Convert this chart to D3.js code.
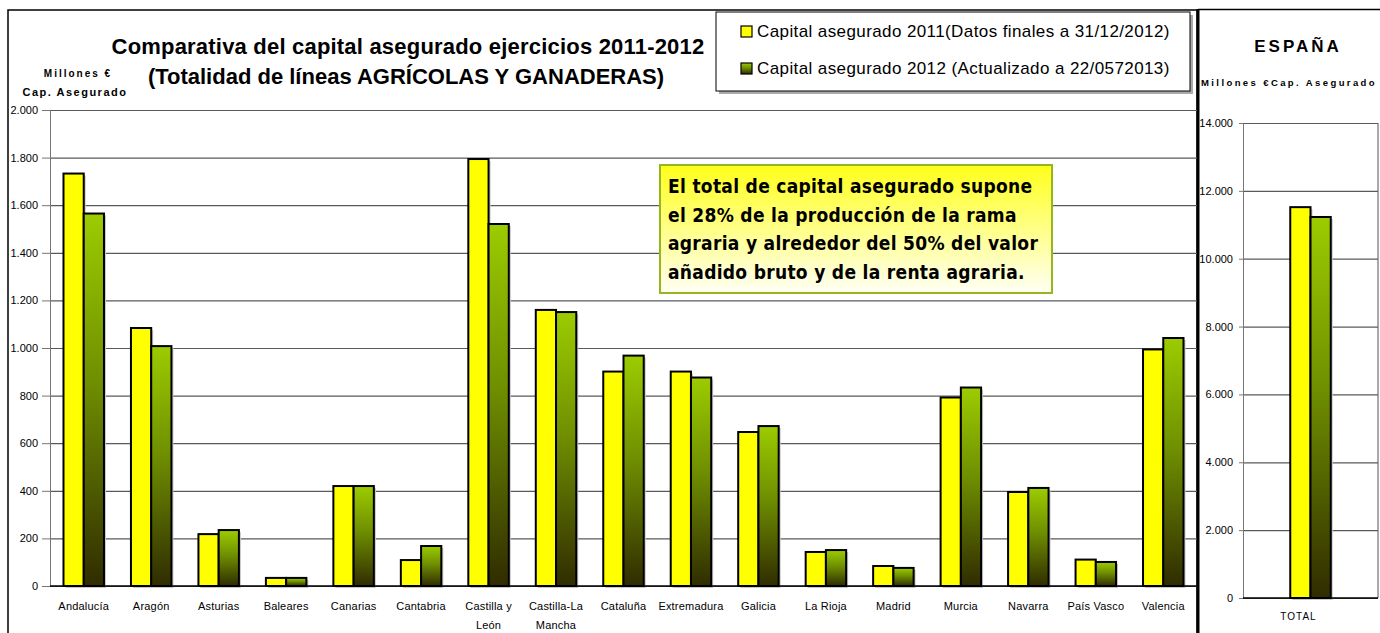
<!DOCTYPE html>
<html>
<head>
<meta charset="utf-8">
<script src="https://cdn.jsdelivr.net/npm/d3@7"></script>
<style>
  body { margin: 0; background: #fff; }
  svg { display: block; font-family: "Liberation Sans", Arial, sans-serif; }
  .grid line { stroke: #5a5a5a; stroke-width: 1.2; }
  .grid .domain { display: none; }
  .yaxis text { font-size: 11px; fill: #000; }
  .yaxis line, .yaxis .domain { stroke: #777; }
</style>
</head>
<body>
<svg id="chart" width="1380" height="633"></svg>
<script>
const regions = ['Andalucía', 'Aragón', 'Asturias', 'Baleares', 'Canarias', 'Cantabria', 'Castilla y León',
  'Castilla-La Mancha', 'Cataluña', 'Extremadura', 'Galicia', 'La Rioja', 'Madrid', 'Murcia', 'Navarra',
  'País Vasco', 'Valencia'];
const regionLabels = [['Andalucía'], ['Aragón'], ['Asturias'], ['Baleares'], ['Canarias'], ['Cantabria'],
  ['Castilla y', 'León'], ['Castilla-La', 'Mancha'], ['Cataluña'], ['Extremadura'], ['Galicia'], ['La Rioja'],
  ['Madrid'], ['Murcia'], ['Navarra'], ['País Vasco'], ['Valencia']];
const capital2011 = [1733, 1084, 218, 34, 420, 109, 1794, 1160, 901, 901, 647, 143, 84, 792, 395, 111, 994];
const capital2012 = [1565, 1008, 235, 34, 420, 168, 1521, 1151, 968, 876, 672, 151, 76, 834, 412, 101, 1042];
const series = ['2011', '2012'];
const seriesNames = ['Capital asegurado 2011(Datos finales a 31/12/2012)',
  'Capital asegurado 2012 (Actualizado a 22/0572013)'];
const totalLabels = ['TOTAL'];
const total2011 = [11520];
const total2012 = [11230];
const noteLines = ['El total de capital asegurado supone', 'el 28% de la producción de la rama',
  'agraria y alrededor del 50% del valor', 'añadido bruto y de la renta agraria.'];

const es = d3.formatLocale({decimal: ',', thousands: '.', grouping: [3], currency: ['', ' €']});
const fmt = es.format(',');

const svg = d3.select('#chart');
const defs = svg.append('defs');

// per-bar gradient for the 2012 series
const g12 = defs.append('linearGradient').attr('id', 'g2012').attr('x1', 0).attr('y1', 0).attr('x2', 0).attr('y2', 1);
g12.append('stop').attr('offset', 0).attr('stop-color', '#9ccc00');
g12.append('stop').attr('offset', 0.45).attr('stop-color', '#6f8f00');
g12.append('stop').attr('offset', 1).attr('stop-color', '#302c00');
const noteGrad = defs.append('linearGradient').attr('id', 'noteGrad').attr('x1', 0).attr('y1', 0).attr('x2', 0).attr('y2', 1);
noteGrad.append('stop').attr('offset', 0).attr('stop-color', '#ffff1a');
noteGrad.append('stop').attr('offset', 1).attr('stop-color', '#fffff4');
const fills = ['#ffff00', 'url(#g2012)'];

// outer frames
svg.append('rect').attr('x', 8).attr('y', 10).attr('width', 1189).attr('height', 640)
  .attr('fill', 'none').attr('stroke', '#000').attr('stroke-width', 1.5);
svg.append('line').attr('x1', 1198).attr('x2', 1198).attr('y1', 9).attr('y2', 633)
  .attr('stroke', '#000').attr('stroke-width', 3);
svg.append('line').attr('x1', 1198).attr('x2', 1380).attr('y1', 9.5).attr('y2', 9.5)
  .attr('stroke', '#000').attr('stroke-width', 1.5);

// ---------- left chart: regions ----------
const x = d3.scaleBand().domain(regions).range([50, 1197]);
const x1 = d3.scaleBand().domain(series).range([x.bandwidth() * 0.2, x.bandwidth() * 0.8]);
const y = d3.scaleLinear().domain([0, 2000]).range([586, 110]);

svg.append('g').attr('class', 'grid').attr('transform', 'translate(50,0)')
  .call(d3.axisLeft(y).ticks(10).tickSize(-1147).tickFormat(''));
svg.append('g').attr('class', 'yaxis').attr('transform', 'translate(50,0)')
  .call(d3.axisLeft(y).ticks(10).tickSize(8).tickPadding(4).tickFormat(fmt));

const rows = regions.map((r, i) => ({region: r, values: [capital2011[i], capital2012[i]]}));
const groups = svg.append('g').selectAll('g').data(rows).join('g')
  .attr('transform', d => `translate(${x(d.region)},0)`);
groups.selectAll('rect.shadow').data(d => d.values).join('rect').attr('class', 'shadow')
  .attr('x', (d, i) => x1(series[i]) + 2).attr('y', d => y(d) + 2)
  .attr('width', x1.bandwidth()).attr('height', d => y(0) - y(d))
  .attr('fill', '#c8c8c8');
groups.selectAll('rect.bar').data(d => d.values).join('rect').attr('class', 'bar')
  .attr('x', (d, i) => x1(series[i])).attr('y', d => y(d))
  .attr('width', x1.bandwidth()).attr('height', d => y(0) - y(d))
  .attr('fill', (d, i) => fills[i]).attr('stroke', '#000').attr('stroke-width', 2);

svg.append('line').attr('x1', 50).attr('x2', 1197).attr('y1', y(0)).attr('y2', y(0))
  .attr('stroke', '#000').attr('stroke-width', 1.5);

svg.append('g').selectAll('text').data(regions).join('text')
  .attr('x', d => x(d) + x.bandwidth() / 2).attr('y', 610)
  .attr('text-anchor', 'middle').attr('font-size', 11).attr('letter-spacing', 0.2)
  .selectAll('tspan').data((d, i) => regionLabels[i]).join('tspan')
  .attr('x', function() { return this.parentNode.getAttribute('x'); })
  .attr('dy', (d, i) => i ? 19 : 0).text(d => d);

// titles
svg.append('text').attr('x', 408).attr('y', 54).attr('text-anchor', 'middle')
  .attr('font-size', 22).attr('font-weight', 'bold').attr('letter-spacing', 0.2)
  .text('Comparativa del capital asegurado ejercicios 2011-2012');
svg.append('text').attr('x', 406).attr('y', 84).attr('text-anchor', 'middle')
  .attr('font-size', 22).attr('font-weight', 'bold')
  .text('(Totalidad de líneas AGRÍCOLAS Y GANADERAS)');
svg.append('text').attr('x', 78).attr('y', 77).attr('text-anchor', 'middle')
  .attr('font-size', 10).attr('font-weight', 'bold').attr('letter-spacing', 2).text('Millones €');
svg.append('text').attr('x', 75).attr('y', 96).attr('text-anchor', 'middle')
  .attr('font-size', 11).attr('font-weight', 'bold').attr('letter-spacing', 1.5).text('Cap. Asegurado');

// legend
const legend = svg.append('g');
legend.append('rect').attr('x', 719).attr('y', 15).attr('width', 474).attr('height', 79).attr('fill', '#aaa');
legend.append('rect').attr('x', 716).attr('y', 12).attr('width', 474).attr('height', 79)
  .attr('fill', '#fff').attr('stroke', '#000').attr('stroke-width', 1);
const li = legend.selectAll('g.item').data(seriesNames).join('g').attr('class', 'item')
  .attr('transform', (d, i) => `translate(741,${26 + i * 37})`);
li.append('rect').attr('width', 11).attr('height', 11)
  .attr('fill', (d, i) => fills[i]).attr('stroke', '#000').attr('stroke-width', 1.2);
li.append('text').attr('x', 16).attr('y', 11).attr('font-size', 17).attr('letter-spacing', 0.4).text(d => d);

// note box
const note = svg.append('g');
note.append('rect').attr('x', 660).attr('y', 165).attr('width', 392).attr('height', 128)
  .attr('fill', 'url(#noteGrad)').attr('stroke', '#94b61e').attr('stroke-width', 2);
note.selectAll('text').data(noteLines).join('text')
  .attr('x', 668).attr('y', (d, i) => 193 + i * 28.5)
  .attr('font-family', '"DejaVu Sans Condensed", "DejaVu Sans", sans-serif')
  .attr('font-size', 19).attr('font-weight', 'bold').attr('letter-spacing', 0.3).text(d => d);

// ---------- right chart: Spain total ----------
const xr = d3.scaleBand().domain(totalLabels).range([1243, 1378]);
const xr1 = d3.scaleBand().domain(series).range([xr.bandwidth() * 0.35, xr.bandwidth() * 0.65]);
const yr = d3.scaleLinear().domain([0, 14000]).range([598, 123]);

svg.append('text').attr('x', 1298).attr('y', 52).attr('text-anchor', 'middle')
  .attr('font-size', 17).attr('font-weight', 'bold').attr('letter-spacing', 3).text('ESPAÑA');
svg.append('text').attr('x', 1201).attr('y', 86)
  .attr('font-size', 9.5).attr('font-weight', 'bold').attr('letter-spacing', 2.4).text('Millones €Cap. Asegurado');

svg.append('g').attr('class', 'grid').attr('transform', 'translate(1243,0)')
  .call(d3.axisLeft(yr).tickValues(d3.range(0, 14001, 2000)).tickSize(-135).tickFormat(''));
svg.append('g').attr('class', 'yaxis').attr('transform', 'translate(1243,0)')
  .call(d3.axisLeft(yr).tickValues(d3.range(0, 14001, 2000)).tickSize(4).tickPadding(6).tickFormat(fmt))
  .call(g => g.selectAll('text').attr('font-size', 10))
  .call(g => g.select('.domain').attr('stroke', '#000'));
svg.append('line').attr('x1', 1378).attr('x2', 1378).attr('y1', 123).attr('y2', 598).attr('stroke', '#555');

const totRows = totalLabels.map((t, i) => ({label: t, values: [total2011[i], total2012[i]]}));
const tg = svg.append('g').selectAll('g').data(totRows).join('g')
  .attr('transform', d => `translate(${xr(d.label)},0)`);
tg.selectAll('rect.shadow').data(d => d.values).join('rect').attr('class', 'shadow')
  .attr('x', (d, i) => xr1(series[i]) + 2).attr('y', d => yr(d) + 2)
  .attr('width', xr1.bandwidth()).attr('height', d => yr(0) - yr(d)).attr('fill', '#c8c8c8');
tg.selectAll('rect.bar').data(d => d.values).join('rect').attr('class', 'bar')
  .attr('x', (d, i) => xr1(series[i])).attr('y', d => yr(d))
  .attr('width', xr1.bandwidth()).attr('height', d => yr(0) - yr(d))
  .attr('fill', (d, i) => fills[i]).attr('stroke', '#000').attr('stroke-width', 2);
svg.append('line').attr('x1', 1243).attr('x2', 1378).attr('y1', yr(0)).attr('y2', yr(0))
  .attr('stroke', '#000').attr('stroke-width', 1.5);
svg.append('g').selectAll('text').data(totalLabels).join('text')
  .attr('x', d => xr(d) + xr.bandwidth() / 2 - 12).attr('y', 620).attr('text-anchor', 'middle')
  .attr('font-size', 10).attr('letter-spacing', 1).text(d => d);
</script>
</body>
</html>
